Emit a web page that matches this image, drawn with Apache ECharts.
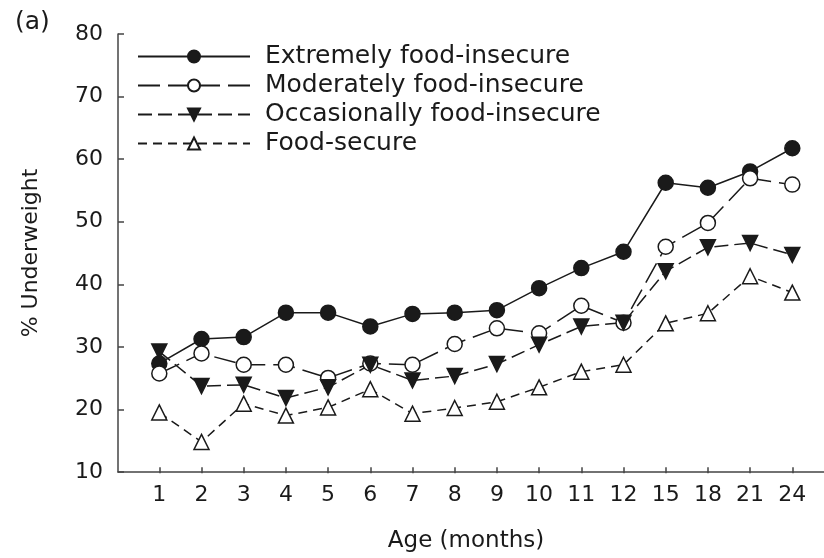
<!DOCTYPE html>
<html>
<head>
<meta charset="utf-8">
<script src="https://cdn.jsdelivr.net/npm/echarts@6/dist/echarts.min.js"></script>
<style>html,body{margin:0;padding:0;background:#fff}#c{width:824px;height:558px}</style>
</head>
<body>
<div id="c"></div>
<script>
var ages = ['1','2','3','4','5','6','7','8','9','10','11','12','15','18','21','24'];
var seriesNames = ['Extremely food-insecure','Moderately food-insecure','Occasionally food-insecure','Food-secure'];
var extremely  = [27.5, 31.4, 31.7, 35.6, 35.6, 33.4, 35.4, 35.6, 36.0, 39.5, 42.7, 45.3, 56.3, 55.5, 58.1, 61.8];
var moderately = [25.9, 29.1, 27.3, 27.3, 25.2, 27.5, 27.3, 30.6, 33.1, 32.3, 36.7, 34.0, 46.1, 49.9, 57.0, 56.0];
var occasionally = [29.4, 23.9, 24.1, 22.0, 23.7, 27.3, 24.8, 25.5, 27.4, 30.5, 33.4, 34.0, 42.2, 46.0, 46.7, 44.8];
var foodSecure = [19.7, 15.0, 21.1, 19.2, 20.5, 23.4, 19.5, 20.4, 21.4, 23.7, 26.2, 27.3, 33.9, 35.5, 41.4, 38.8];
var yTicks = {min: 10, max: 80, interval: 10};

var FONT = 'DejaVu Sans';
var INK = '#1a1a1a';
var AX = '#444';

var chart = echarts.init(document.getElementById('c'), null, {renderer: 'canvas'});

function mk(name, data, symbol, rotate, dash, fill) {
  return {
    name: name, type: 'line', data: data,
    xAxisIndex: 0, yAxisIndex: 0,
    symbol: symbol, symbolSize: 15,
    symbolRotate: rotate,
    lineStyle: {color: INK, width: 1.5, type: dash},
    itemStyle: {color: fill, borderColor: INK, borderWidth: 1.5},
    emphasis: {disabled: true},
    animation: false, z: 3
  };
}

chart.setOption({
  backgroundColor: '#fff',
  animation: false,
  title: {text: '(a)', left: 15, top: 10, padding: 0,
    textStyle: {fontFamily: FONT, fontSize: 25, fontWeight: 'normal', color: INK}},
  legend: {
    orient: 'vertical', left: 137, top: 44, padding: 0,
    itemWidth: 112, itemHeight: 15, itemGap: 4,
    data: seriesNames,
    textStyle: {fontFamily: FONT, fontSize: 25, color: INK, lineHeight: 25, padding: [0, 0, 0, 10]},
    selectedMode: false
  },
  grid: [
    {left: 159.3, right: 31.7, top: 34, bottom: 84.7},
    {left: 118, right: 0, top: 34, bottom: 84.7}
  ],
  xAxis: [
    {type: 'category', gridIndex: 0, data: ages, boundaryGap: false,
     axisLine: {show: false},
     axisTick: {show: true, inside: true, length: 6, alignWithLabel: true, lineStyle: {color: AX, width: 1.5}},
     axisLabel: {fontFamily: FONT, fontSize: 22, color: INK, margin: 11, interval: 0},
     splitLine: {show: false}},
    {type: 'value', gridIndex: 1, min: 0, max: 1,
     axisLine: {show: true, lineStyle: {color: AX, width: 1.5}},
     axisTick: {show: false}, axisLabel: {show: false}, splitLine: {show: false},
     name: 'Age (months)', nameLocation: 'middle', nameGap: 58,
     nameTextStyle: {fontFamily: FONT, fontSize: 23, color: INK, padding: [0, 10, 0, 0]}}
  ],
  yAxis: [
    {type: 'value', gridIndex: 0, min: yTicks.min, max: yTicks.max, interval: yTicks.interval,
     show: false, splitLine: {show: false}},
    {type: 'value', gridIndex: 1, min: yTicks.min, max: yTicks.max, interval: yTicks.interval,
     axisLine: {show: true, lineStyle: {color: AX, width: 1.5}},
     axisTick: {show: true, inside: true, length: 6, lineStyle: {color: AX, width: 1.5}},
     axisLabel: {fontFamily: FONT, fontSize: 22, color: INK, margin: 15},
     splitLine: {show: false},
     name: '% Underweight', nameLocation: 'middle', nameGap: 76,
     nameTextStyle: {fontFamily: FONT, fontSize: 22, color: INK}}
  ],
  series: [
    mk(seriesNames[0], extremely, 'circle', 0, 'solid', INK),
    mk(seriesNames[1], moderately, 'circle', 0, [22, 8], '#fff'),
    mk(seriesNames[2], occasionally, 'triangle', 180, [14, 6], INK),
    mk(seriesNames[3], foodSecure, 'triangle', 0, [9, 6], '#fff')
  ]
});
</script>
</body>
</html>
